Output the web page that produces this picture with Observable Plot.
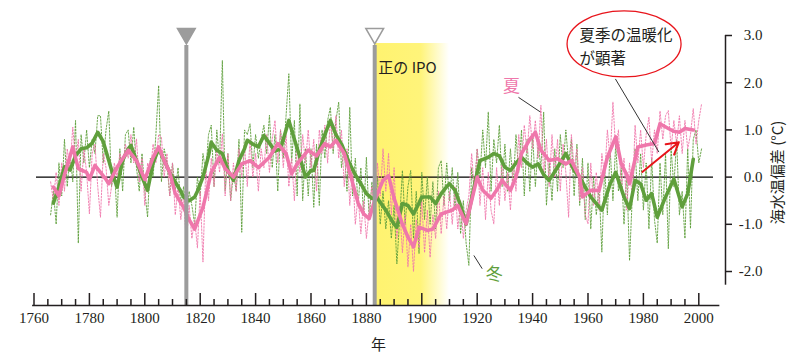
<!DOCTYPE html>
<html><head><meta charset="utf-8">
<script src="https://cdn.jsdelivr.net/npm/d3@7"></script>
<script src="https://cdn.jsdelivr.net/npm/@observablehq/plot@0.6"></script>
<style>body{margin:0;background:#fff}</style>
</head><body><div id="chart"></div>
<script>
// ---- data ----
const annualStart = 1766;
const winterAnnual = [
-0.8,-0.3,-1.0,0.3,-0.4,0.8,-0.2,0.5,-0.1,1.2,
-1.4,0.9,0.3,1.0,0.2,0.8,0.5,1.3,1.3,0.3,
1.0,1.4,-0.2,0.2,-0.85,0.6,-0.3,0.9,1.0,0.3,
1.06,0.2,-0.3,0.5,-0.3,-0.85,0.4,0.0,0.9,1.94,
-0.1,0.6,0.3,-0.4,0.3,-0.3,0.2,-0.6,-0.2,-0.9,
-0.3,-0.6,-1.0,0.0,-0.4,0.5,0.1,0.9,1.1,-0.2,
1.0,0.3,2.47,-0.3,0.5,-0.5,0.1,-0.3,0.8,-1.17,
1.0,0.9,1.13,0.2,0.9,0.4,0.8,1.1,0.5,1.31,
0.2,0.9,-0.3,1.0,0.4,1.3,2.19,0.3,1.2,-0.4,
1.55,-0.5,0.6,-0.4,0.6,-0.64,0.7,-0.6,1.0,0.4,
1.2,1.48,0.5,1.2,1.59,0.2,0.6,-0.3,1.48,-0.4,
0.4,-0.6,0.2,-0.8,0.42,-0.9,-0.1,-0.8,0.0,-1.0,
-0.3,-1.1,-0.5,-1.3,-0.6,-1.84,-0.9,0.14,-1.0,-0.2,
0.14,-1.3,-0.3,-1.62,0.1,-0.9,0.0,-1.0,-0.1,-1.1,
0.2,0.35,-0.6,0.3,-0.5,0.2,-0.7,0.1,-1.2,-0.5,
-1.4,-1.87,0.2,-0.3,0.6,0.0,1.0,0.2,1.38,-0.3,
0.8,0.3,1.1,-0.2,0.7,-0.3,0.6,-0.2,0.9,0.1,
1.0,-0.4,0.8,-0.3,0.9,-0.2,0.7,0.2,1.38,-0.6,
0.3,-0.5,0.6,-0.3,0.9,0.2,1.0,0.3,0.8,-0.4,
0.7,-0.6,0.4,-0.9,0.3,-1.1,0.0,-0.8,-0.2,-1.59,
0.2,-0.8,0.6,-0.5,0.7,-0.3,0.2,-1.0,0.1,-1.77,
-0.4,0.6,-0.5,0.5,-0.7,0.3,-1.1,0.4,-0.9,-1.4,
0.3,-0.8,0.5,-1.52,0.6,-0.2,0.8,-0.8,-0.3,-1.3,
0.6,-1.09,0.8,1.0,0.3,0.6];
const summerAnnual = [
-0.1,-0.5,0.1,-0.6,0.3,-0.3,0.6,0.2,1.06,0.3,
0.8,-0.3,0.6,0.1,-0.78,0.5,0.7,-0.2,-0.85,0.5,
0.2,-0.6,-0.2,0.3,0.0,0.5,0.2,0.7,0.4,0.9,
0.3,0.81,-0.1,0.4,-0.6,0.3,0.1,0.7,0.3,0.9,
0.85,0.0,0.5,-0.4,0.3,-0.8,-0.2,-0.9,-0.4,-1.41,
-0.6,-1.3,-0.9,-1.5,-0.3,-1.8,0.2,-0.5,0.4,-0.2,
0.6,0.1,0.92,-0.4,0.5,-0.5,0.3,-0.3,0.6,0.0,
0.7,-0.2,0.8,0.0,0.5,-0.3,0.6,0.2,0.9,0.1,
0.8,1.2,0.3,1.0,0.2,0.9,-0.2,0.4,-0.5,0.7,
0.1,0.9,0.3,1.0,0.2,0.8,-0.3,1.0,0.5,1.1,
0.3,1.2,0.6,1.3,0.4,1.0,-0.2,0.6,-0.6,0.2,
-1.0,-0.4,-1.2,-0.5,-1.3,-0.7,-0.2,-0.9,0.3,-0.4,
0.6,-0.3,0.5,-0.8,0.2,-1.3,-0.6,-1.6,-0.8,-1.9,
-1.0,-2.0,-0.9,-1.5,-0.5,-1.6,-0.7,-1.7,-0.8,-1.3,
-0.3,-1.2,-0.4,-1.1,-0.3,-1.0,-0.2,-1.1,-0.5,-1.3,
-0.7,-0.4,0.5,-0.3,0.6,-0.6,0.2,-0.9,0.1,-0.7,
-0.99,0.2,-0.6,0.4,-0.5,0.1,-0.7,0.3,-0.3,0.9,
0.2,1.1,0.5,1.3,0.6,1.2,0.4,1.52,0.0,0.8,
-0.2,0.9,0.0,0.8,-0.3,0.7,0.1,-0.85,0.9,0.2,
0.6,-0.5,0.2,-0.8,-0.99,0.3,-0.6,0.1,-0.7,0.5,
0.0,1.0,0.4,1.59,0.6,1.0,-0.3,0.4,-0.7,0.3,
-0.5,1.1,0.3,1.0,0.2,0.9,1.27,0.3,1.0,0.5,
1.4,0.8,1.3,1.41,0.6,1.2,0.7,1.3,0.5,1.2,
0.6,0.9,1.45,0.7,1.2,1.55];
const winterSmooth = [[1767,-0.55],[1769,-0.2],[1771,0.22],[1773,0.15],[1775,0.45],[1777,0.6],[1779,0.62],[1781,0.72],[1783,0.95],[1785,0.75],[1787,0.35],[1789,-0.05],[1790,-0.21],[1792,0.35],[1794,0.6],[1795,0.67],[1797,0.35],[1799,0.0],[1801,-0.28],[1803,0.3],[1805,0.6],[1807,0.35],[1809,0.1],[1811,-0.1],[1813,-0.3],[1814,-0.42],[1816,-0.5],[1818,-0.42],[1819,-0.3],[1821,0.0],[1823,0.45],[1824,0.74],[1826,0.57],[1828,0.5],[1830,0.14],[1832,-0.07],[1834,0.35],[1836,0.6],[1837,0.78],[1839,0.7],[1841,0.64],[1843,0.88],[1845,0.72],[1847,0.55],[1849,0.6],[1852,1.2],[1854,0.8],[1856,0.42],[1858,0.0],[1860,0.14],[1861,0.14],[1863,0.57],[1865,0.9],[1867,1.2],[1869,0.9],[1871,0.7],[1874,0.28],[1876,0.05],[1878,-0.14],[1880,-0.35],[1882,-0.45],[1884,-0.45],[1887,-0.7],[1890,-1.0],[1891,-1.06],[1893,-0.56],[1895,-0.6],[1897,-0.78],[1899,-0.55],[1900,-0.42],[1903,-0.42],[1905,-0.56],[1907,-0.35],[1909,-0.2],[1910,-0.14],[1912,-0.28],[1914,-0.6],[1916,-1.0],[1918,-0.45],[1920,0.1],[1921,0.35],[1924,0.42],[1926,0.5],[1928,0.45],[1930,0.21],[1932,0.14],[1934,0.3],[1936,0.42],[1938,0.3],[1940,0.21],[1942,0.28],[1944,0.05],[1946,-0.07],[1949,0.21],[1952,0.5],[1955,0.14],[1957,0.0],[1959,-0.21],[1961,-0.42],[1963,-0.56],[1965,-0.7],[1968,-0.14],[1970,0.1],[1973,-0.42],[1975,-0.67],[1977,-0.07],[1979,-0.14],[1981,-0.49],[1983,-0.35],[1985,-0.85],[1988,-0.42],[1991,-0.04],[1994,-0.63],[1996,-0.35],[1998,0.38]];
const summerSmooth = [[1767,-0.21],[1769,-0.4],[1771,0.05],[1774,0.64],[1776,0.18],[1779,0.1],[1780,-0.05],[1782,0.25],[1784,0.1],[1786,-0.05],[1787,-0.14],[1790,0.21],[1794,0.57],[1797,0.35],[1800,-0.05],[1803,0.42],[1805,0.64],[1807,0.35],[1809,0.1],[1811,-0.35],[1814,-0.64],[1816,-0.9],[1818,-1.1],[1821,-0.64],[1824,0.1],[1827,0.42],[1829,0.18],[1832,0.0],[1835,0.28],[1838,0.35],[1841,0.2],[1845,0.42],[1848,0.71],[1851,0.5],[1853,0.07],[1855,0.28],[1859,0.57],[1862,0.45],[1865,0.71],[1867,0.64],[1869,0.78],[1872,0.5],[1874,0.1],[1877,-0.55],[1879,-0.78],[1881,-0.88],[1883,-0.49],[1886,-0.07],[1888,0.03],[1890,-0.45],[1893,-1.0],[1895,-1.27],[1897,-1.48],[1899,-1.06],[1902,-1.13],[1904,-1.1],[1907,-0.78],[1911,-0.7],[1913,-0.6],[1916,-0.99],[1920,0.0],[1922,-0.28],[1925,-0.45],[1927,-0.28],[1929,-0.07],[1932,-0.28],[1934,0.0],[1936,0.5],[1939,0.8],[1941,0.95],[1943,0.57],[1946,0.35],[1949,0.39],[1952,0.28],[1954,0.35],[1957,0.0],[1958,-0.42],[1961,-0.28],[1964,-0.28],[1967,0.42],[1970,0.85],[1972,0.28],[1974,0.05],[1975,-0.14],[1978,0.64],[1981,0.68],[1984,0.71],[1986,1.13],[1989,1.03],[1991,0.97],[1993,0.95],[1995,1.03],[1998,1.0]];
const xMajorTicks = [1760,1780,1800,1820,1840,1860,1880,1900,1920,1940,1960,1980,2000];
const xMajorLabels = ["1760","1780","1800","1820","1840","1860","1880","1900","1920","1940","1960","1980","2000"];
const xMinorTicks = [1765,1770,1775,1785,1790,1795,1805,1810,1815,1825,1830,1835,1845,1850,1855,1865,1870,1875,1885,1890,1895,1905,1910,1915,1925,1930,1935,1945,1950,1955,1965,1970,1975,1985,1990,1995];
const yTicks = [3,2,1,0,-1,-2];
const yTickLabels = ["3.0","2.0","1.0","0.0","-1.0","-2.0"];
const volcanoYears = [1815, 1883];
const volcanoFilled = [true, false];
const ipoBand = [1883, 1910];

// ---- styling / layout ----
const PINK = "#ef77ab", GREEN = "#5f9f3c", INK = "#231f20", GRAY = "#9c9c9c";
const SERIF = "Liberation Serif, DejaVu Serif, serif";
const SANS = "Noto Sans CJK JP, Noto Sans, sans-serif";
const X0 = 1760, X1 = 2009.64, Y0 = -2.72, Y1 = 3.0;
const yAxisX = 2009.64;

const wA = winterAnnual.map((v,i)=>({year: annualStart+i, v}));
const sA = summerAnnual.map((v,i)=>({year: annualStart+i, v}));
const wS = winterSmooth.map(([year,v])=>({year,v}));
const sS = summerSmooth.map(([year,v])=>({year,v}));
const majors = xMajorTicks.map((t,i)=>({t, label: xMajorLabels[i]}));
const ys = yTicks.map((t,i)=>({t, label: yTickLabels[i]}));
const volc = volcanoYears.map((year,i)=>({year, filled: volcanoFilled[i]}));

const plot = Plot.plot({
  width: 800, height: 359,
  marginLeft: 33.5, marginRight: 75, marginTop: 35, marginBottom: 54,
  x: {domain: [X0, X1], axis: null},
  y: {domain: [Y0, Y1], axis: null},
  style: {background: "#fff", overflow: "visible"},
  marks: [
    Plot.rect([ipoBand], {x1: d=>d[0], x2: d=>d[1], y1: Y0, y2: 2.83, fill: "url(#ipoGrad)"}),
    Plot.ruleY([0], {x1: 1760.9, x2: 2005.3, stroke: "#000", strokeWidth: 1.4}),
    Plot.line(wA, {x: "year", y: "v", stroke: GREEN, strokeWidth: 0.9, strokeDasharray: "1.6,1.6"}),
    Plot.line(sA, {x: "year", y: "v", stroke: PINK, strokeWidth: 0.9, strokeDasharray: "1.6,1.6"}),
    Plot.line(wS, {x: "year", y: "v", stroke: GREEN, strokeWidth: 3.6, strokeLinejoin: "round"}),
    Plot.line(sS, {x: "year", y: "v", stroke: PINK, strokeWidth: 3.6, strokeLinejoin: "round"}),
    Plot.ruleX(volc, {x: "year", y1: Y0, y2: 2.79, stroke: GRAY, strokeWidth: 4}),
    Plot.dot(volc, {x: "year", y: 3.04, symbol: "triangle", rotate: 180, r: 6.6,
      fill: d => d.filled ? GRAY : "#fff", stroke: GRAY, strokeWidth: 1.5}),
    // x axis
    Plot.ruleY([Y0], {x1: 1759.5, x2: 2007.6, stroke: INK, strokeWidth: 1.5}),
    Plot.ruleX(majors, {x: "t", y1: Y0, y2: Y0 + 12/47.2, stroke: INK, strokeWidth: 1.5}),
    Plot.ruleX(xMinorTicks, {x: d=>d, y1: Y0, y2: Y0 + 6/47.2, stroke: INK, strokeWidth: 1.5}),
    Plot.text(majors, {x: "t", y: Y0, dy: 13, text: "label", fontFamily: SERIF, fontSize: 15, fill: INK}),
    Plot.text(["年"], {x: 1884.4, y: Y0, dy: 40, text: d=>d, fontFamily: SANS, fontSize: 15, fill: INK}),
    // y axis (right)
    Plot.ruleX([yAxisX], {y1: -2.29, y2: Y1, stroke: INK, strokeWidth: 1.5}),
    Plot.ruleY(ys, {y: "t", x1: yAxisX, x2: yAxisX + 7/2.77, stroke: INK, strokeWidth: 1.5}),
    Plot.text(ys, {x: yAxisX, y: "t", dx: 37, text: "label", textAnchor: "end", fontFamily: SERIF, fontSize: 15, fill: INK}),
    Plot.text(["海水温偏差 (°C)"], {x: yAxisX, y: 0.1, dx: 53, text: d=>d, rotate: -90, fontFamily: SANS, fontSize: 15, fill: INK}),
    // annotations
    Plot.text(["正の IPO"], {x: 1884.3, y: 2.30, text: d=>d, textAnchor: "start", fontFamily: SANS, fontSize: 15, fill: INK}),
    Plot.text(["夏"], {x: 1932.4, y: 1.92, text: d=>d, fontFamily: SANS, fontSize: 17, fill: PINK}),
    Plot.link([0], {x1: 1934.9, y1: 1.69, x2: 1942.8, y2: 1.38, stroke: "#333", strokeWidth: 1}),
    Plot.text(["冬"], {x: 1926.2, y: -2.06, text: d=>d, fontFamily: SANS, fontSize: 17, fill: GREEN}),
    Plot.link([0], {x1: 1918.8, y1: -1.66, x2: 1921.8, y2: -1.94, stroke: "#333", strokeWidth: 1}),
    Plot.link([0], {x1: 1969.9, y1: 2.08, x2: 1985.6, y2: 0.53, stroke: "#333", strokeWidth: 1}),
    Plot.arrow([0], {x1: 1979.6, y1: 0.11, x2: 1992.8, y2: 0.74, stroke: "#e8141b", strokeWidth: 2, headLength: 10, bend: 0}),
    Plot.text(["夏季の温暖化"], {x: 1956.9, y: 2.98, text: d=>d, textAnchor: "start", fontFamily: SANS, fontSize: 15.5, fill: INK}),
    Plot.text(["が顕著"], {x: 1956.9, y: 2.50, text: d=>d, textAnchor: "start", fontFamily: SANS, fontSize: 15.5, fill: INK})
  ]
});

const svg = d3.select(plot);
const defs = svg.insert("defs", ":first-child");
const g = defs.append("linearGradient").attr("id", "ipoGrad").attr("x1", "0").attr("x2", "1").attr("y1", "0").attr("y2", "0");
g.append("stop").attr("offset", "0%").attr("stop-color", "#fff36f");
g.append("stop").attr("offset", "62%").attr("stop-color", "#fff47a");
g.append("stop").attr("offset", "100%").attr("stop-color", "#ffffff");
const sx = plot.scale("x"), sy = plot.scale("y");
svg.append("ellipse")
  .attr("cx", sx.apply(1973.2)).attr("cy", sy.apply(2.81))
  .attr("rx", 57).attr("ry", 33)
  .attr("fill", "none").attr("stroke", "#e8141b").attr("stroke-width", 1.3);
document.getElementById("chart").appendChild(plot);
</script></body></html>
